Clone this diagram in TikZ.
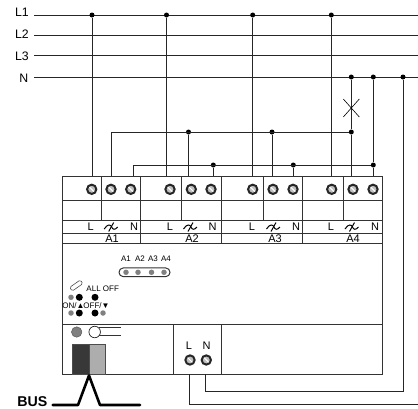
\documentclass[tikz,border=0pt]{standalone}
\usepackage{fontspec}
\setmainfont{Liberation Sans}
\usetikzlibrary{calc}

\tikzset{
  wire/.style={black!85, line width=1pt},
  frame/.style={black!80, line width=1pt},
  dot/.style={circle, fill=black, inner sep=0pt, minimum size=5pt},
  terminal/.style={circle, draw=black!85, line width=2pt, fill=black!25, inner sep=0pt, minimum size=9.3pt,
    path picture={\draw[white, line width=1pt] (path picture bounding box.north west) -- (path picture bounding box.south east);}},
  led/.style={circle, fill=black!50, inner sep=0pt, minimum size=5.5pt},
  btn/.style={circle, fill=black, inner sep=0pt, minimum size=7pt},
  large/.style={inner sep=0pt, font=\fontsize{12.3}{13}\selectfont},
  small/.style={inner sep=0pt, font=\fontsize{11}{12}\selectfont},
  tiny/.style={inner sep=0pt, font=\fontsize{8}{9}\selectfont},
  relay/.pic={
    \draw[black, line width=1pt] (-6.5,2) .. controls (-3,-3.5) and (0,-2.5) .. (1,0) .. controls (2,2.5) and (4,3.5) .. (7,0);
    \draw[black, line width=1pt] (-2,4.5) -- (3,-4.5);
  }
}

\begin{document}
\begin{tikzpicture}[x=1pt, y=-1pt]
      \useasboundingbox (0,0) rectangle (418,408);

      % Supply lines
      \node[large, anchor=east] (nameL1) at (29,12.5) {L1};
      \node[large, anchor=east] (nameL2) at (29,34) {L2};
      \node[large, anchor=east] (nameL3) at (29,56) {L3};
      \node[large, anchor=east] (nameN) at (28.5,78.5) {N};
      \coordinate (startL1) at (34,15);
      \coordinate (startL2) at (34,35.5);
      \coordinate (startL3) at (34,55);
      \coordinate (startN) at (34,77);
      \coordinate (endL1) at (418,15);
      \coordinate (endL2) at (418,35.5);
      \coordinate (endL3) at (418,55);
      \coordinate (endN) at (418,77);
      \draw[wire] (startL1) -- (endL1);
      \draw[wire] (startL2) -- (endL2);
      \draw[wire] (startL3) -- (endL3);
      \draw[wire] (startN) -- (endN);

      % Device outline
      \node[draw, frame, anchor=north west, inner sep=0pt, minimum width=320pt, minimum height=198pt] (device) at (62,176) {};

      % Rows of the device
      \draw[frame] (62,200) -- (382,200);
      \draw[frame] (62,220.5) -- (382,220.5);
      \draw[frame] (62,233.5) -- (382,233.5);
      \draw[frame] (62,243) -- (382,243);
      \draw[frame] (62,324) -- (382,324);

      % Channel dividers
      \draw[frame] (140.7,176) -- (140.7,243);
      \draw[frame] (221.7,176) -- (221.7,243);
      \draw[frame] (302.3,176) -- (302.3,243);
      \draw[frame] (101.3,176) -- (101.3,220.5);
      \draw[frame] (181.3,176) -- (181.3,220.5);
      \draw[frame] (263,176) -- (263,220.5);
      \draw[frame] (343.3,176) -- (343.3,220.5);
      \draw[frame] (173.7,324) -- (173.7,374);
      \draw[frame] (221.7,324) -- (221.7,374);

      % Channel terminals
      \node[terminal] (a1l) at (91.7,189.3) {};
      \node[terminal] (a1s) at (111,189.3) {};
      \node[terminal] (a1n) at (130.7,189.3) {};
      \node[terminal] (a2l) at (170,189.3) {};
      \node[terminal] (a2s) at (191.3,189.3) {};
      \node[terminal] (a2n) at (211,189.3) {};
      \node[terminal] (a3l) at (252.7,189.3) {};
      \node[terminal] (a3s) at (273,189.3) {};
      \node[terminal] (a3n) at (293,189.3) {};
      \node[terminal] (a4l) at (331.7,189.3) {};
      \node[terminal] (a4s) at (353,189.3) {};
      \node[terminal] (a4n) at (373,189.3) {};

      % Terminal labels
      \node[small] (textL1) at (90.7,227) {L};
      \pic at (110.7,227) {relay};
      \node[small] (textN1) at (134,227) {N};
      \node[small] (textL2) at (170,227) {L};
      \pic at (190,227) {relay};
      \node[small] (textN2) at (212.7,227) {N};
      \node[small] (textL3) at (252,227) {L};
      \pic at (273,227) {relay};
      \node[small] (textN3) at (296,227) {N};
      \node[small] (textL4) at (331,227) {L};
      \pic at (351.5,227) {relay};
      \node[small] (textN4) at (375,227) {N};
      \node[small] (chan1) at (112,238.5) {A1};
      \node[small] (chan2) at (192,238.5) {A2};
      \node[small] (chan3) at (275,238.5) {A3};
      \node[small] (chan4) at (353,238.5) {A4};

      % Junctions on L1 and N
      \node[dot] (tapA) at (92,15) {};
      \node[dot] (tapB) at (166.5,15) {};
      \node[dot] (tapC) at (252.7,15) {};
      \node[dot] (tapD) at (331.3,15) {};
      \node[dot] (tapE) at (351.3,77) {};
      \node[dot] (tapF) at (373.3,77) {};
      \node[dot] (tapG) at (403,77) {};

      % Junctions on the two cross links
      \node[dot] (upA) at (188.5,132) {};
      \node[dot] (upB) at (272,132) {};
      \node[dot] (upC) at (351.3,132) {};
      \node[dot] (lowA) at (213.3,165) {};
      \node[dot] (lowB) at (293.3,165) {};
      \node[dot] (lowC) at (373.3,165) {};
      \coordinate (upStart) at (111,132);
      \coordinate (lowStart) at (133.3,165);

      % Wires down to the device
      \draw[wire] (tapA) -- (tapA |- device.north);
      \draw[wire] (tapB) -- (tapB |- device.north);
      \draw[wire] (tapC) -- (tapC |- device.north);
      \draw[wire] (tapD) -- (tapD |- device.north);
      \draw[wire] (upStart) -- (upStart |- device.north);
      \draw[wire] (lowStart) -- (lowStart |- device.north);
      \draw[wire] (upA) -- (upA |- device.north);
      \draw[wire] (upB) -- (upB |- device.north);
      \draw[wire] (upC) -- (upC |- device.north);
      \draw[wire] (lowA) -- (lowA |- device.north);
      \draw[wire] (lowB) -- (lowB |- device.north);
      \draw[wire] (lowC) -- (lowC |- device.north);

      % Cross links
      \draw[wire] (upStart) -- (upC);
      \draw[wire] (lowStart) -- (lowC);
      \draw[wire] (tapE) -- (upC);
      \draw[wire] (tapF) -- (lowC);

      % Lamp cross
      \coordinate (crossNW) at (343.3,99);
      \coordinate (crossSE) at (359.3,117);
      \coordinate (crossNE) at (359.3,99);
      \coordinate (crossSW) at (343.3,117);
      \draw[black, line width=0.6pt] (crossNW) -- (crossSE);
      \draw[black, line width=0.6pt] (crossNE) -- (crossSW);

      % Status indicators
      \node[tiny] (nameA1) at (126,259) {A1};
      \node[tiny] (nameA2) at (140,259) {A2};
      \node[tiny] (nameA3) at (153,259) {A3};
      \node[tiny] (nameA4) at (166,259) {A4};
      \node[draw, frame, rounded corners=4.3pt, inner sep=0pt, minimum width=51pt, minimum height=8.7pt] (ledbar) at (144.5,272.3) {};
      \node[led] (ledA1) at (126,272.3) {};
      \node[led] (ledA2) at (138,272.3) {};
      \node[led] (ledA3) at (151.5,272.3) {};
      \node[led] (ledA4) at (164,272.3) {};

      % Manual operation
      \draw[black!70, line width=0.6pt, rounded corners=1.5pt, rotate around={35:(76,286)}] (70,283.5) rectangle (83,288);
      \node[tiny] (allOff) at (102.7,289) {ALL OFF};
      \node[tiny] (onUp) at (73.5,305.5) {ON/\symbol{"25B2}};
      \node[tiny] (offDown) at (96.5,305.5) {OFF/\symbol{"25BC}};
      \node[led] (ledOn) at (71,297.3) {};
      \node[btn] (btnOn) at (79.3,297.3) {};
      \node[btn] (btnAll) at (95,297.3) {};
      \node[led] (ledUp) at (71,313) {};
      \node[btn] (btnUp) at (79.3,313) {};
      \node[btn] (btnDown) at (95,313) {};
      \node[led] (ledDown) at (103,313) {};

      % Programming button and bus connector
      \node[circle, fill=black!50, draw=black!70, inner sep=0pt, minimum size=10.5pt] (progLed) at (76.7,332) {};
      \draw[black!80, line width=0.7pt] (99,327) -- (121,327);
      \draw[black!80, line width=0.7pt] (99,335.5) -- (121,335.5);
      \node[circle, fill=white, draw=black!85, line width=0.7pt, inner sep=0pt, minimum size=11.5pt] (progBtn) at (94.7,332) {};
      \node[draw=black!70, line width=1.2pt, fill=black!78, anchor=north west, inner sep=0pt, minimum width=16.5pt, minimum height=30pt] (busA) at (72,344) {};
      \node[draw=black!70, line width=1.2pt, fill=black!32, anchor=north west, inner sep=0pt, minimum width=16pt, minimum height=30pt] (busB) at (88.5,344) {};

      % Bus line
      \node[font=\bfseries\fontsize{14.2}{15}\selectfont, inner sep=0pt, anchor=east] (bus) at (47.5,401.3) {BUS};
      \coordinate (busL) at (52.7,405);
      \coordinate (busLK) at (78,405);
      \coordinate (busTop) at (89,375.5);
      \coordinate (busRK) at (100,405);
      \coordinate (busR) at (140,405);
      \draw[black, line width=2.6pt, line join=round, line cap=round] (busL) -- (busLK) -- (busTop) -- (busRK) -- (busR);

      % Power supply terminals
      \node[small] (powL) at (189,345.7) {L};
      \node[small] (powN) at (206.7,345.7) {N};
      \node[terminal] (termL) at (190,360) {};
      \node[terminal] (termN) at (206.3,360) {};
      \coordinate (cornerL) at (189.7,404);
      \coordinate (exitL) at (418,404);
      \coordinate (cornerN) at (205.3,391);
      \coordinate (cornerG) at (403,391);
      \draw[wire] (189.7,374) -- (cornerL) -- (exitL);
      \draw[wire] (205.3,374) -- (cornerN) -- (cornerG) -- (tapG);
\end{tikzpicture}
\end{document}
